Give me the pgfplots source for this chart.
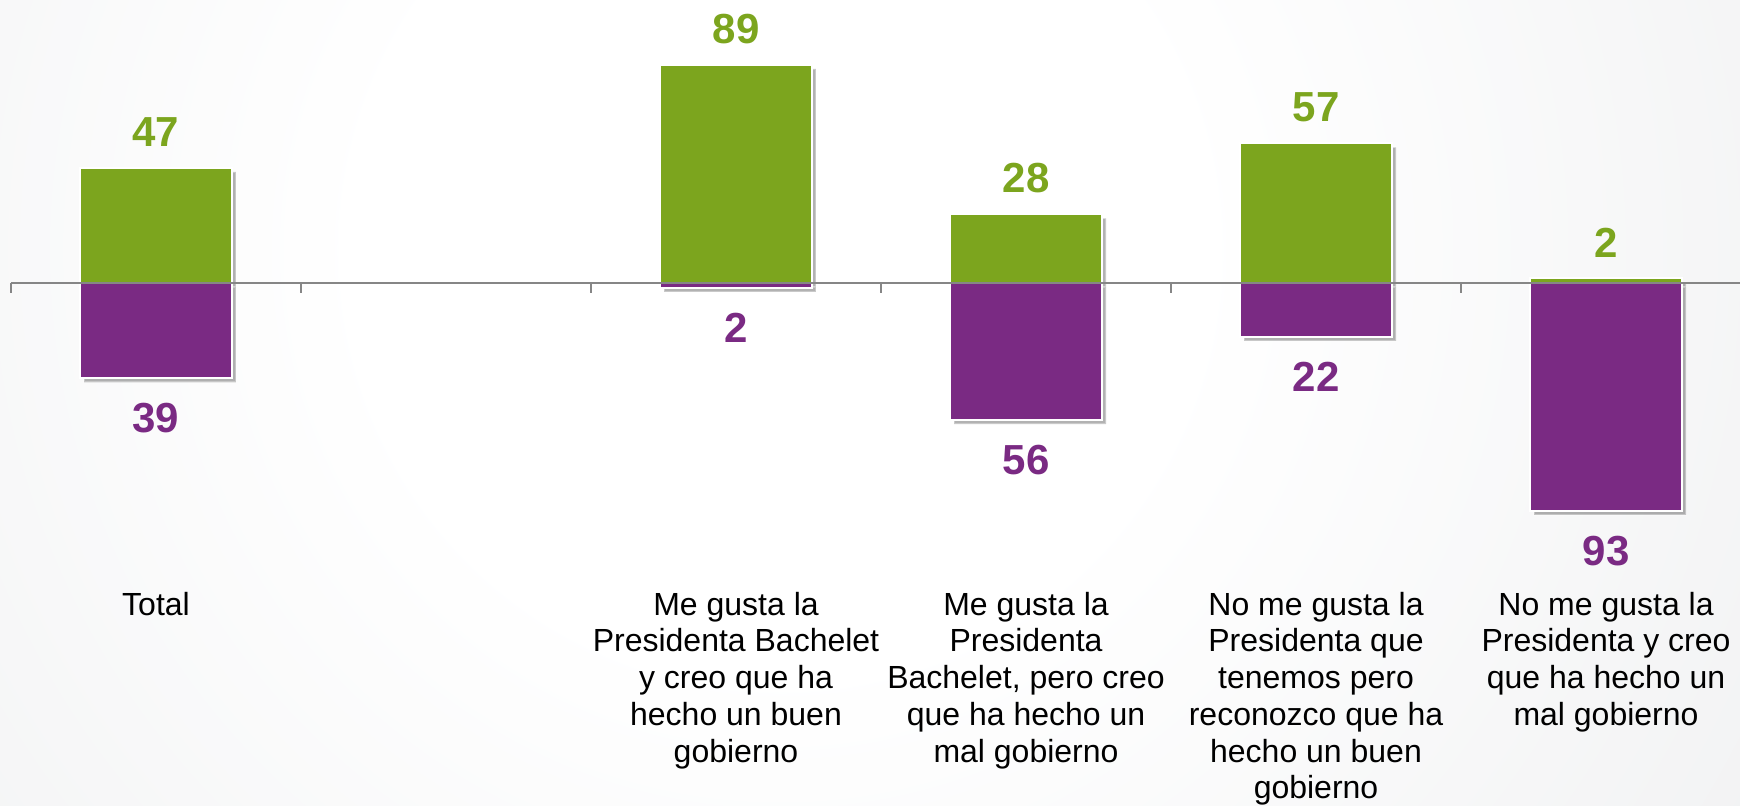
\documentclass[border=0pt]{standalone}
\usepackage{fontspec}
\setmainfont{Liberation Sans}
\usepackage{pgfplots}
\pgfplotsset{compat=1.18}
\usetikzlibrary{shadows}
\definecolor{vgreen}{HTML}{7CA51E}
\definecolor{vpurple}{HTML}{7A2A83}
\definecolor{bgout}{RGB}{231,232,234}
\definecolor{axgray}{RGB}{134,134,134}
\pgfdeclareradialshading{bgshade}{\pgfpoint{0bp}{0bp}}{color(0bp)=(white); color(7.4bp)=(white); color(31bp)=(bgout); color(50bp)=(bgout)}
\begin{document}
\begin{tikzpicture}
\useasboundingbox (-5.5pt,0pt) rectangle (864.5pt,402.5pt);
\begin{scope}
\clip (-5.5pt,0pt) rectangle (864.5pt,402.5pt);
\shade[shading=bgshade] (384.5pt,277.5pt) circle (700pt);
\end{scope}
\begin{axis}[
  at={(0pt,0pt)}, anchor=south west,
  scale only axis, width=864.5pt, height=402.5pt,
  xmin=-0.5, xmax=5.462, ymin=-213.1, ymax=115.5,
  axis x line=middle, axis y line=none,
  axis line style={axgray, line width=0.75pt, -},
  xtick={-0.5,0.5,1.5,2.5,3.5,4.5}, xticklabels={},
  tick align=outside, major tick length=5pt,
  tick style={axgray, line width=0.75pt},
  ytick=\empty,
  axis on top,
  clip=false,
  ybar, bar width=0.524, bar shift=0pt,
  point meta=explicit symbolic,
  nodes near coords,
]
\addplot[fill=vgreen, draw=white, line width=1pt,
  drop shadow={shadow xshift=2pt, shadow yshift=-2pt, fill=black, opacity=0.3},
  every node near coord/.append style={anchor=south, yshift=10pt, inner sep=0pt, text=vgreen, font=\fontsize{21}{25}\selectfont\bfseries}]
  coordinates {(0,47) [47] (2,89) [89] (3,28) [28] (4,57) [57] (5,2) [2]};
\addplot[fill=vpurple, draw=white, line width=1pt,
  drop shadow={shadow xshift=2pt, shadow yshift=-2pt, fill=black, opacity=0.3},
  every node near coord/.append style={anchor=north, yshift=-12pt, inner sep=0pt, text=vpurple, font=\fontsize{21}{25}\selectfont\bfseries}]
  coordinates {(0,-39) [39] (2,-2) [2] (3,-56) [56] (4,-22) [22] (5,-93) [93]};
\begin{scope}[every node/.style={anchor=north, align=center, inner sep=0pt, font=\fontsize{16}{18.35}\selectfont}]
\node at (axis cs:0,-126) {Total};
\node at (axis cs:2,-126) {Me gusta la\\Presidenta Bachelet\\y creo que ha\\hecho un buen\\gobierno};
\node at (axis cs:3,-126) {Me gusta la\\Presidenta\\Bachelet, pero creo\\que ha hecho un\\mal gobierno};
\node at (axis cs:4,-126) {No me gusta la\\Presidenta que\\tenemos pero\\reconozco que ha\\hecho un buen\\gobierno};
\node at (axis cs:5,-126) {No me gusta la\\Presidenta y creo\\que ha hecho un\\mal gobierno};
\end{scope}
\end{axis}
\end{tikzpicture}
\end{document}
